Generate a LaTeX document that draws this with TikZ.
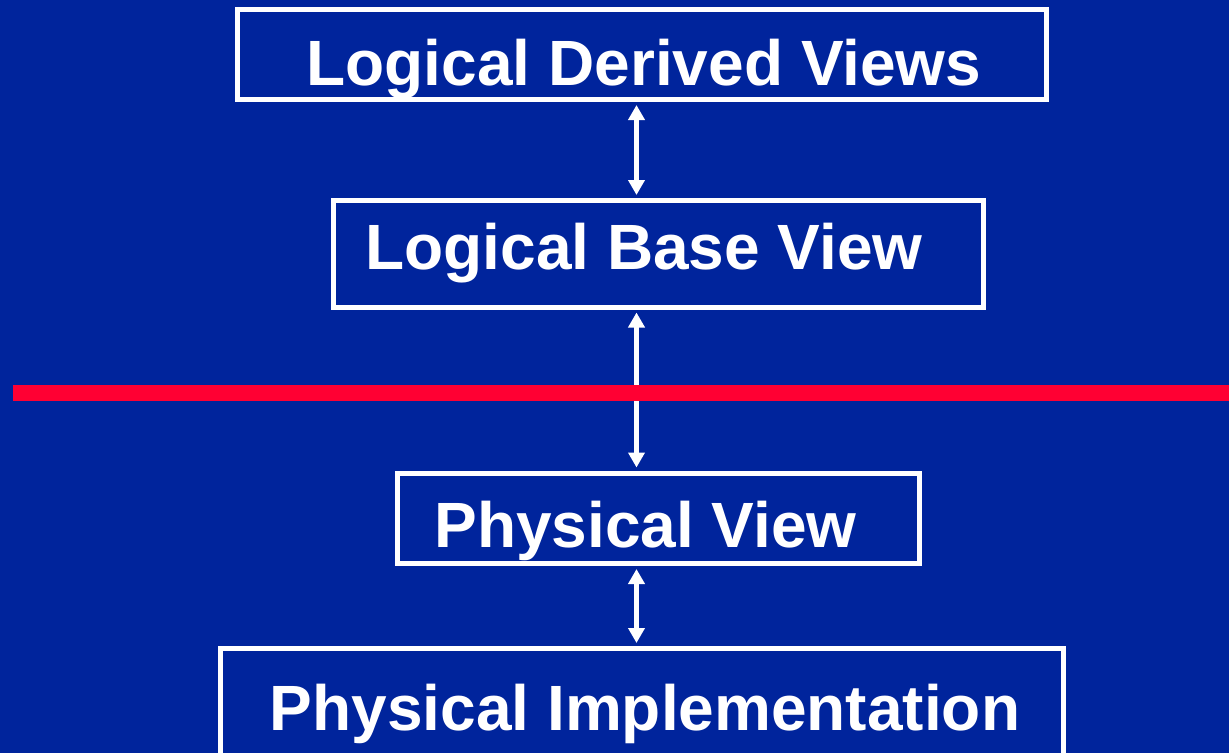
\documentclass[tikz,border=0pt]{standalone}
\usepackage{fontspec}
\setmainfont{Liberation Sans}
\usetikzlibrary{arrows.meta}
\definecolor{slideblue}{RGB}{0,36,156}
\definecolor{dividerred}{RGB}{255,0,51}
\tikzset{
  viewbox/.style={draw=white, line width=5pt, inner sep=0pt, fill=none},
  viewtext/.style={text=white, anchor=base, inner sep=0pt,
    font=\bfseries\fontsize{64}{76}\selectfont},
  dualarrow/.style={draw=white, line width=5pt,
    {Triangle[width=16pt,length=15pt]}-{Triangle[width=16pt,length=15pt]},
    shorten <=3pt, shorten >=3pt},
  divider/.style={draw=dividerred, line width=16pt}
}
\begin{document}
\begin{tikzpicture}[x=1pt,y=-1pt]
  % canvas
  \fill[slideblue] (0,0) rectangle (1229,753);
  \useasboundingbox (0,0) rectangle (1229,753);
  \clip (0,0) rectangle (1229,753);

  % the four view boxes
  \node[viewbox, minimum width=809.5pt, minimum height=90.5pt]  (derived) at (641.75,54.25) {};
  \node[viewbox, minimum width=650pt,   minimum height=106.5pt] (base)    at (658,253.75) {};
  \node[viewbox, minimum width=522.5pt, minimum height=90.5pt]  (phys)    at (658.25,518.25) {};
  \node[viewbox, minimum width=843pt,   minimum height=151.5pt] (impl)    at (642,724.25) {};

  % box labels
  \node[viewtext] (tderived) at (644,85)  {Logical Derived Views};
  \node[viewtext] (tbase)    at (644,269) {Logical Base View};
  \node[viewtext] (tphys)    at (645.5,547) {Physical View};
  \node[viewtext] (timpl)    at (645,730) {Physical Implementation};

  % vertical connectors
  \coordinate (ax) at (636.5,0);
  \draw[dualarrow] (derived.south -| ax) -- (base.north -| ax);
  \draw[dualarrow] (base.south -| ax) -- (phys.north -| ax);
  \draw[dualarrow] (phys.south -| ax) -- (impl.north -| ax);

  % logical / physical divider
  \draw[divider] (13,393) -- (1229,393);
\end{tikzpicture}
\end{document}
